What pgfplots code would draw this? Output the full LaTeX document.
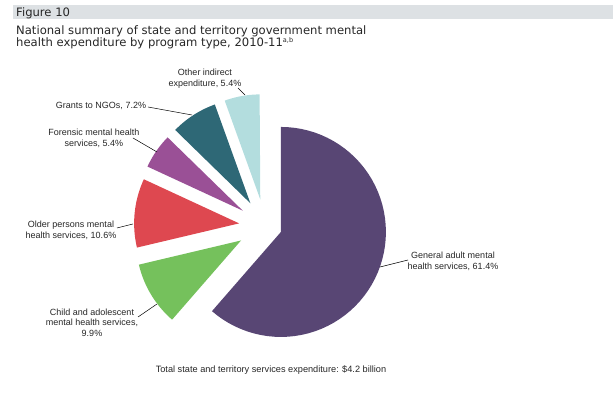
\documentclass[border=0pt]{standalone}
\usepackage{pgfplots}
\pgfplotsset{compat=1.18}
\usepackage{fontspec}
\setmainfont{Liberation Sans}
\newfontfamily\titlefont{DejaVu Sans}
\definecolor{cGen}{RGB}{88,70,116}
\definecolor{cChild}{RGB}{117,193,92}
\definecolor{cOld}{RGB}{222,72,80}
\definecolor{cFor}{RGB}{154,80,150}
\definecolor{cGr}{RGB}{46,104,118}
\definecolor{cOth}{RGB}{179,221,222}
\definecolor{band}{RGB}{221,225,228}
% #1 cumulative share before slice, #2 share (%), #3 explosion, #4 colour
\newcommand{\pieslice}[4]{%
 \pgfmathsetmacro\sa{90-3.6*#1}%
 \pgfmathsetmacro\ea{90-3.6*(#1+#2)}%
 \pgfmathsetmacro\da{(\ea-\sa)/59}%
 \pgfmathsetmacro\ma{(\sa+\ea)/2}%
 \pgfmathsetmacro\vx{265+#3*cos(\ma)}%
 \pgfmathsetmacro\vy{169+#3*sin(\ma)}%
 \edef\doslice{\noexpand\addplot[fill=#4, draw=none, variable=\noexpand\t, samples at={0,1,...,60}] ({\vx+(\noexpand\t>0)*105*cos(\sa+(\noexpand\t-1)*(\da))}, {\vy+(\noexpand\t>0)*105*sin(\sa+(\noexpand\t-1)*(\da))});}%
 \doslice
}
\begin{document}
\begin{tikzpicture}
\begin{axis}[x=1pt, y=1pt, xmin=0, xmax=614, ymin=0, ymax=395,
  hide axis, scale only axis, clip=false]
\addplot[draw=none] coordinates {(0,0) (614,395)};
% header band
\addplot[fill=band, draw=none] coordinates {(13,376) (613,376) (613,390) (13,390)} -- cycle;
\node[anchor=base west, inner sep=0, font=\titlefont\fontsize{11.6}{13}\selectfont, text=black!85] at (axis cs:16,378) {Figure 10};
\node[anchor=base west, inner sep=0, font=\titlefont\fontsize{11.6}{13}\selectfont, text=black!85] at (axis cs:16,360) {National summary of state and territory government mental};
\node[anchor=base west, inner sep=0, font=\titlefont\fontsize{11.6}{13}\selectfont, text=black!85] at (axis cs:16,348) {health expenditure by program type, 2010-11\textsuperscript{\fontsize{6.5}{6.5}\selectfont a,b}};
% pie slices (shares in %)
\pieslice{0}{61.4}{17}{cGen}
\pieslice{61.4}{9.9}{28}{cChild}
\pieslice{71.3}{10.6}{26}{cOld}
\pieslice{81.9}{5.4}{27}{cFor}
\pieslice{87.3}{7.2}{27}{cGr}
\pieslice{94.5}{5.4}{27}{cOth}
% leader lines
\addplot[black, line width=0.5pt] coordinates {(238,307) (245,300)};
\addplot[black, line width=0.5pt] coordinates {(148,288) (192,280)};
\addplot[black, line width=0.5pt] coordinates {(133,257) (157,243)};
\addplot[black, line width=0.5pt] coordinates {(117,167) (133,171)};
\addplot[black, line width=0.5pt] coordinates {(138,78) (157,91)};
\addplot[black, line width=0.5pt] coordinates {(408,135) (380,128)};
% labels
\tikzset{lab/.style={inner sep=0, align=center, font=\fontsize{9}{10.7}\selectfont, text=black!85}}
\node[lab] at (axis cs:205,316) {Other indirect\\expenditure, 5.4\%};
\node[lab] at (axis cs:101,289) {Grants to NGOs, 7.2\%};
\node[lab] at (axis cs:94,257) {Forensic mental health\\services, 5.4\%};
\node[lab] at (axis cs:71,165) {Older persons mental\\health services, 10.6\%};
\node[lab] at (axis cs:92,72.5) {Child and adolescent\\mental health services,\\9.9\%};
\node[lab] at (axis cs:453,134) {General adult mental\\health services, 61.4\%};
\node[lab, font=\fontsize{9.2}{11}\selectfont] at (axis cs:271,25) {Total state and territory services expenditure: \$4.2 billion};
\end{axis}
\end{tikzpicture}
\end{document}
